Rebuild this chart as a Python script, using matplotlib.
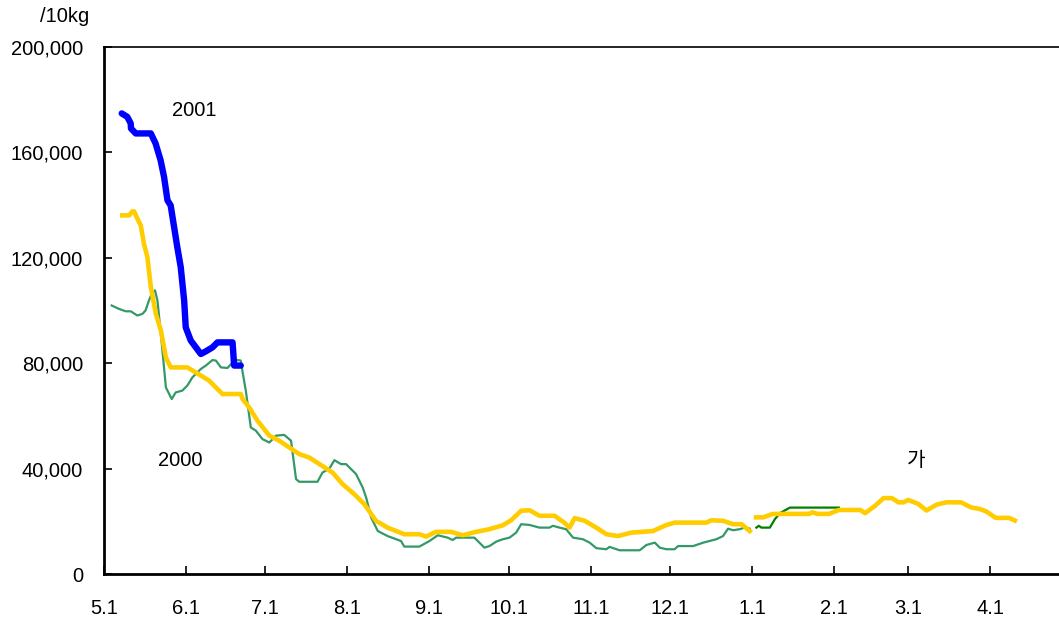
import matplotlib.pyplot as plt

# eixo x em dias a partir de 1 de maio
tick_days = [0, 31, 61, 92, 123, 153, 184, 214, 245, 276, 304, 335]
tick_labels = ["5.1", "6.1", "7.1", "8.1", "9.1", "10.1", "11.1", "12.1", "1.1", "2.1", "3.1", "4.1"]

# 2001 (azul)
d2001 = [6.7, 8.8, 10.1, 10.2, 12, 17.7, 19.5, 21.4, 22.7, 24, 25.2, 26.5, 27.7, 29, 30.3, 30.9,
         32.8, 36.6, 38.5, 41, 42.9, 48.6, 49.2, 51.7]
v2001 = [174800, 173500, 171000, 169100, 167200, 167200, 163400, 157000, 150700, 141800, 139900,
         131700, 124100, 116500, 103800, 93600, 88600, 83500, 84500, 86000, 87900, 87900, 79100, 79100]

# amarelo (parte 1, até 1.1)
dam1 = [6.9, 9.5, 10.7, 11.4, 12.6, 13.9, 15.1, 16.4, 17.7, 19.6, 21.5, 23.4, 25.2, 31.5, 34.7,
        39.7, 44.8, 51.7, 52.4, 54.9, 58, 62.5, 66.2, 73.8, 77.6, 86.4, 90.2, 94.6, 98.4, 102.8,
        107.2, 113.5, 119.2, 121.8, 125.5, 131.2, 135.6, 140.7, 145.7, 150.8, 153.9, 157.7, 160.9,
        164.6, 170.3, 174, 176, 177.9, 181.7, 186.1, 189.9, 194.3, 199.3, 207.5, 212.6, 215.7,
        227.7, 229.6, 234, 237.8, 241, 244.1]
vam1 = [136100, 136100, 137600, 137600, 134900, 132300, 125300, 120300, 108900, 98700, 92400, 82200,
        78400, 78400, 76500, 73400, 68300, 68300, 66400, 63200, 58200, 52500, 50600, 45500, 44200,
        38500, 34100, 30300, 26500, 20200, 17600, 15100, 15100, 14200, 16000, 16000, 14700, 16000,
        17000, 18500, 20400, 24000, 24200, 22100, 22100, 19500, 17600, 21200, 20200, 17600, 15100,
        14400, 15700, 16300, 18600, 19500, 19500, 20400, 20200, 18900, 18900, 16300]

# amarelo (parte 2)
dam2 = [246.5, 249.2, 252.8, 266.5, 267.8, 269.7, 274, 277.8, 285.9, 287.7, 291.5, 294.7, 297.8,
        300.3, 302.2, 304, 307.8, 310.9, 314.7, 318.4, 324, 327.7, 330.9, 333.4, 337.1, 342.1, 344.3]
vam2 = [21500, 21500, 22800, 22800, 23400, 22800, 22800, 24300, 24300, 23100, 25900, 28800, 28800,
        27200, 27200, 28100, 26600, 24100, 26300, 27200, 27200, 25300, 24700, 23800, 21300, 21300, 20300]

# verde claro (2000)
dver = [2.9, 5.7, 8.2, 10.1, 12.6, 14.5, 15.7, 17, 18.3, 19.3, 20.2, 21.5, 23.4, 24, 25.6, 27.1,
        29.6, 31.5, 33.4, 36.6, 38.5, 41, 42.3, 44.2, 46.7, 48.6, 50.5, 51.7, 52.3, 53.6, 55.5, 57.4,
        59.9, 62.5, 65, 68.1, 70.7, 72.6, 73.8, 80.7, 82.6, 85.2, 87.1, 89.6, 91.5, 95.3, 97.8, 99.1,
        101, 103.5, 107.2, 112.3, 113.5, 119.2, 123, 126.2, 129.9, 131.8, 133.1, 140, 143.8, 145.7,
        148.3, 150.8, 153.3, 155.8, 157.7, 160.9, 164.6, 168.4, 169.7, 172.2, 174.7, 177.3, 181,
        183.6, 186.1, 189.9, 191.1, 194.9, 202.5, 205, 208.2, 210.1, 212.6, 215.7, 217, 222.7, 226.5,
        231.5, 234, 235.9, 237.8, 240.3, 242.2, 244.1]
vver = [101900, 100600, 99700, 99700, 98100, 98700, 100000, 103800, 107000, 107600, 103800, 91100,
        70800, 69600, 66400, 68900, 69600, 71500, 74600, 77800, 79100, 81200, 81000, 78400, 78200,
        80300, 81200, 81000, 77200, 69600, 55600, 54400, 51200, 49900, 52500, 52800, 50600, 36000,
        35000, 35000, 38500, 40000, 43200, 41700, 41700, 37900, 32800, 29000, 21400, 16300, 14400,
        12500, 10400, 10400, 12500, 14700, 13800, 12900, 13800, 13800, 10000, 10600, 12300, 13200,
        13800, 15700, 18900, 18600, 17600, 17600, 18300, 17600, 17000, 13800, 13200, 11900, 9800,
        9400, 10300, 9000, 9000, 11000, 11900, 10000, 9400, 9400, 10600, 10600, 11900, 13200, 14400,
        17200, 16600, 17000, 17600, 17200]

# verde escuro
dve = [246.6, 247.5, 248.5, 251.7, 253.6, 255.5, 259.3, 277.8]
vve = [17600, 18300, 17600, 17600, 20800, 23100, 25200, 25200]

fig = plt.figure(figsize=(10.59, 6.25), dpi=100)
ax = fig.add_axes([0.0982, 0.0816, 0.9018, 0.8432])

ax.plot(dver, vver, color='#339966', lw=1.6)
ax.plot(dve, vve, color='#008000', lw=1.6)
ax.plot(dam1, vam1, color='#FFCC00', lw=3.3, solid_joinstyle='round')
ax.plot(dam2, vam2, color='#FFCC00', lw=3.3, solid_joinstyle='round')
ax.plot(d2001, v2001, color='#0000FF', lw=4.6, solid_capstyle='round', solid_joinstyle='round')

ax.set_xlim(0, 361)
ax.set_ylim(0, 200000)
ax.set_yticks(range(0, 200001, 40000))
ax.set_yticklabels([f"{v:,}" for v in range(0, 200001, 40000)])
ax.set_xticks(tick_days)
ax.set_xticklabels(tick_labels)

fonte = 'Liberation Sans'
tam = 14.5
for lab in ax.get_xticklabels() + ax.get_yticklabels():
    lab.set_fontfamily(fonte)
    lab.set_fontsize(tam)
ax.tick_params(direction='in', length=6, width=1.2, colors='black')
ax.tick_params(axis='x', pad=18)
ax.tick_params(axis='y', pad=15)

ax.spines['right'].set_visible(False)
for s in ['left', 'bottom']:
    ax.spines[s].set_linewidth(2)
ax.spines['top'].set_linewidth(1.2)

fig.text(65 / 1059, 1 - 17 / 625, "/10kg", fontsize=tam, family=fonte, ha='center', va='center')
ax.text(34, 176000, "2001", fontsize=tam, family=fonte, ha='center', va='center')
ax.text(29, 43000, "2000", fontsize=tam, family=fonte, ha='center', va='center')
ax.text(307, 43000, "가", fontsize=tam, family=['Noto Sans CJK KR', 'DejaVu Sans'],
        ha='center', va='center')

fig.savefig('out.png', dpi=100)
